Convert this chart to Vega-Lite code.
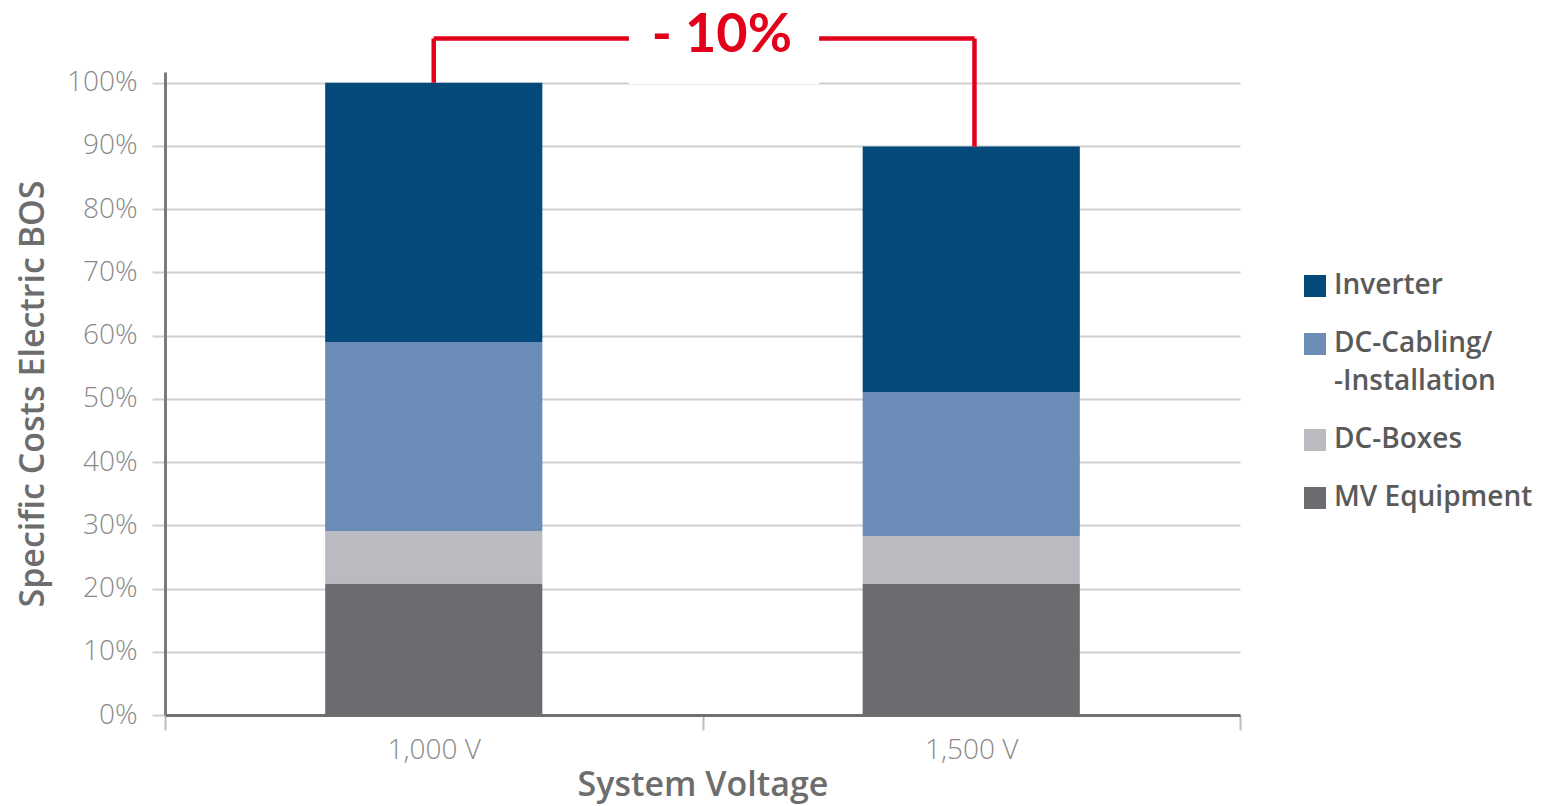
{
  "$schema": "https://vega.github.io/schema/vega-lite/v6.json",
  "width": 1075,
  "height": 643,
  "autosize": {"type": "none"},
  "padding": {"left": 165, "top": 72, "right": 306, "bottom": 91},
  "background": "white",
  "config": {
    "view": {"stroke": null},
    "font": "Open Sans",
    "style": {"guide-label": {"lineHeight": 38}}
  },
  "layer": [
    {
      "data": {
        "values": [
          {"voltage": "1,000 V", "component": "MV Equipment", "rank": 1, "share": 20.8},
          {"voltage": "1,000 V", "component": "DC-Boxes", "rank": 2, "share": 8.3},
          {"voltage": "1,000 V", "component": "DC-Cabling/-Installation", "rank": 3, "share": 29.9},
          {"voltage": "1,000 V", "component": "Inverter", "rank": 4, "share": 41.0},
          {"voltage": "1,500 V", "component": "MV Equipment", "rank": 1, "share": 20.7},
          {"voltage": "1,500 V", "component": "DC-Boxes", "rank": 2, "share": 7.6},
          {"voltage": "1,500 V", "component": "DC-Cabling/-Installation", "rank": 3, "share": 22.8},
          {"voltage": "1,500 V", "component": "Inverter", "rank": 4, "share": 38.8}
        ]
      },
      "mark": {"type": "bar", "width": {"band": 0.404}},
      "encoding": {
        "x": {
          "field": "voltage",
          "type": "nominal",
          "sort": null,
          "scale": {"paddingInner": 0, "paddingOuter": 0},
          "axis": {
            "title": "System Voltage",
            "labelAngle": 0,
            "labelFontSize": 28,
            "labelFontWeight": 300,
            "labelColor": "#8a8a8a",
            "labelPadding": 6,
            "tickBand": "extent",
            "tickSize": 15,
            "tickColor": "#bdbdbd",
            "tickWidth": 2,
            "domainColor": "#6f6f6f",
            "domainWidth": 3,
            "titleFontSize": 34,
            "titleFontWeight": 600,
            "titleColor": "#6d6d6d",
            "titlePadding": 4,
            "grid": false
          }
        },
        "y": {
          "field": "share",
          "type": "quantitative",
          "stack": "zero",
          "scale": {"domain": [0, 101.7], "nice": false},
          "axis": {
            "title": "Specific Costs Electric BOS",
            "values": [0, 10, 20, 30, 40, 50, 60, 70, 80, 90, 100],
            "labelExpr": "datum.value + '%'",
            "labelFontSize": 28,
            "labelFontWeight": 300,
            "labelColor": "#8a8a8a",
            "labelPadding": 15,
            "tickSize": 13,
            "tickColor": "#cfcfcf",
            "tickWidth": 2,
            "grid": true,
            "gridColor": "#cfcfcf",
            "gridWidth": 2,
            "domainColor": "#7a7a7a",
            "domainWidth": 3,
            "titleFontSize": 34,
            "titleFontWeight": 600,
            "titleColor": "#6d6d6d",
            "titlePadding": 16
          }
        },
        "color": {
          "field": "component",
          "type": "nominal",
          "scale": {
            "domain": ["Inverter", "DC-Cabling/-Installation", "DC-Boxes", "MV Equipment"],
            "range": ["#03497a", "#6a8cb6", "#b9bbc0", "#6c6c70"]
          },
          "legend": {
            "title": null,
            "orient": "none",
            "legendX": 1136,
            "legendY": 200,
            "symbolType": "square",
            "symbolSize": 484,
            "symbolStrokeWidth": 0,
            "labelFontSize": 28,
            "labelFontWeight": 600,
            "labelColor": "#5a5a5a",
            "labelOffset": 5,
            "rowPadding": 30,
            "labelLimit": 300,
            "labelExpr": "datum.label == 'DC-Cabling/-Installation' ? ['DC-Cabling/', '-Installation'] : datum.label"
          }
        },
        "order": {"field": "rank", "type": "quantitative"}
      }
    },
    {
      "data": {
        "values": [
          {"x": 0.5, "x2": 0.5, "y": 100, "y2": 107},
          {"x": 1.506, "x2": 1.506, "y": 89.9, "y2": 107},
          {"x": 0.5, "x2": 1.506, "y": 107, "y2": 107}
        ]
      },
      "mark": {"type": "rule", "color": "#e2001a", "strokeWidth": 4.5},
      "encoding": {
        "x": {"field": "x", "type": "quantitative", "scale": {"domain": [0, 2], "nice": false}, "axis": null},
        "x2": {"field": "x2"},
        "y": {"field": "y", "type": "quantitative", "scale": {"domain": [0, 101.7], "nice": false}, "axis": null},
        "y2": {"field": "y2"}
      }
    },
    {
      "data": {"values": [{"x": 0.863, "x2": 1.217, "y": 99.75, "y2": 113}]},
      "mark": {"type": "rect", "color": "white"},
      "encoding": {
        "x": {"field": "x", "type": "quantitative", "scale": {"domain": [0, 2], "nice": false}, "axis": null},
        "x2": {"field": "x2"},
        "y": {"field": "y", "type": "quantitative", "axis": null},
        "y2": {"field": "y2"}
      }
    },
    {
      "data": {"values": [{"x": 1.036, "y": 107.45, "label": "- 10%"}]},
      "mark": {"type": "text", "color": "#e2001a", "fontSize": 54, "fontWeight": "bold", "baseline": "middle", "align": "center", "font": "Lato"},
      "encoding": {
        "x": {"field": "x", "type": "quantitative", "scale": {"domain": [0, 2], "nice": false}, "axis": null},
        "y": {"field": "y", "type": "quantitative", "axis": null},
        "text": {"field": "label"}
      }
    }
  ],
  "resolve": {"scale": {"x": "independent"}, "axis": {"x": "independent", "y": "independent"}}
}
